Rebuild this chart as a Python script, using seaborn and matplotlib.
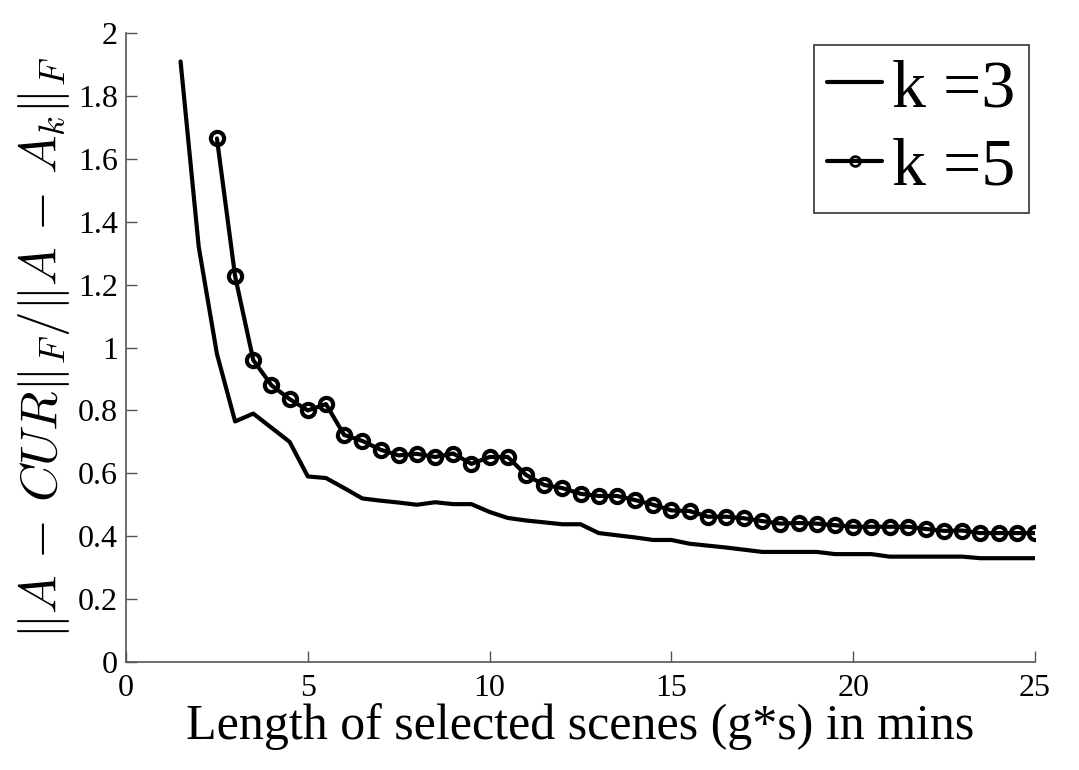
import pandas as pd
import matplotlib
matplotlib.use('Agg')
import matplotlib.pyplot as plt
import seaborn as sns
import numpy as np

# x positions (mins) and the ratio values
x_k3 = [1.5, 2.0, 2.5, 3.0, 3.5, 4.0, 4.5, 5.0, 5.5, 6.0, 6.5, 7.0, 7.5, 8.0, 8.5, 9.0,
        9.5, 10.0, 10.5, 11.0, 11.5, 12.0, 12.5, 13.0, 13.5, 14.0, 14.5, 15.0, 15.5, 16.0,
        16.5, 17.0, 17.5, 18.0, 18.5, 19.0, 19.5, 20.0, 20.5, 21.0, 21.5, 22.0, 22.5, 23.0,
        23.5, 24.0, 24.5, 25.0]
y_k3 = [1.91, 1.32, 0.98, 0.765, 0.79, 0.745, 0.70, 0.59, 0.585, 0.553, 0.52, 0.513, 0.507,
        0.50, 0.508, 0.502, 0.502, 0.477, 0.458, 0.45, 0.444, 0.438, 0.438, 0.41, 0.403,
        0.396, 0.388, 0.388, 0.376, 0.37, 0.364, 0.357, 0.35, 0.35, 0.35, 0.35, 0.343, 0.343,
        0.343, 0.335, 0.335, 0.335, 0.335, 0.335, 0.33, 0.33, 0.33, 0.33]

x_k5 = [2.5, 3.0, 3.5, 4.0, 4.5, 5.0, 5.5, 6.0, 6.5, 7.0, 7.5, 8.0, 8.5, 9.0, 9.5, 10.0,
        10.5, 11.0, 11.5, 12.0, 12.5, 13.0, 13.5, 14.0, 14.5, 15.0, 15.5, 16.0, 16.5, 17.0,
        17.5, 18.0, 18.5, 19.0, 19.5, 20.0, 20.5, 21.0, 21.5, 22.0, 22.5, 23.0, 23.5, 24.0,
        24.5, 25.0]
y_k5 = [1.665, 1.227, 0.96, 0.88, 0.836, 0.80, 0.82, 0.722, 0.703, 0.675, 0.657, 0.662,
        0.652, 0.663, 0.63, 0.652, 0.652, 0.595, 0.563, 0.553, 0.535, 0.528, 0.528, 0.515,
        0.50, 0.482, 0.48, 0.462, 0.462, 0.457, 0.448, 0.44, 0.442, 0.44, 0.435, 0.43,
        0.43, 0.43, 0.43, 0.423, 0.417, 0.418, 0.41, 0.41, 0.41, 0.41]

labels = ['k =3', 'k =5']

sns.set_style('ticks')
plt.rcParams['font.family'] = ['Liberation Serif', 'DejaVu Serif']
plt.rcParams['mathtext.fontset'] = 'cm'
plt.rcParams['text.color'] = 'black'

df3 = pd.DataFrame({'x': x_k3, 'y': y_k3})
df5 = pd.DataFrame({'x': x_k5, 'y': y_k5})

fig = plt.figure(figsize=(10.79, 7.7), dpi=100)
ax = fig.add_axes([0.1168, 0.1403, 0.9592 - 0.1168, 0.957 - 0.1403])

sns.lineplot(data=df3, x='x', y='y', ax=ax, color='black', linewidth=3, label=labels[0])
sns.lineplot(data=df5, x='x', y='y', ax=ax, color='black', linewidth=3, marker='o',
             markersize=9.5, markerfacecolor='none', markeredgecolor='black',
             markeredgewidth=3, label=labels[1])

ax.set_xlim(0, 25)
ax.set_ylim(0, 2)
ax.set_xticks([0, 5, 10, 15, 20, 25])
ax.set_yticks(np.arange(0, 2.01, 0.2))
ax.set_yticklabels(['0', '0.2', '0.4', '0.6', '0.8', '1', '1.2', '1.4', '1.6', '1.8', '2'])
ax.tick_params(direction='in', length=8, width=1, labelsize=23, color='#555555',
               labelcolor='black')
ax.tick_params(axis='x', pad=9)
ax.tick_params(axis='y', pad=6)
sns.despine(ax=ax)
for s in ['left', 'bottom']:
    ax.spines[s].set_linewidth(1.2)
    ax.spines[s].set_color('#555555')

ax.set_xlabel('Length of selected scenes (g*s) in mins', fontsize=36, labelpad=0,
              color='black')
ax.set_ylabel(r'$\|A\,-\,CUR\|_F/\|A\,-\,A_k\|_F$', fontsize=37, labelpad=4,
              color='black')

leg = ax.legend(loc='upper right', bbox_to_anchor=(0.9934, 0.981), fontsize=49,
                frameon=True, fancybox=False, edgecolor='black', handlelength=0.8,
                handletextpad=0.15, borderpad=0.2, labelspacing=0.25,
                borderaxespad=0.0)
leg.get_frame().set_linewidth(1.2)
for t in leg.get_texts():
    t.set_color('black')
# smaller hollow marker in the legend, like the original
for h in leg.get_lines():
    h.set_markersize(7)
    h.set_markeredgewidth(2)

fig.savefig('out.png', dpi=100)
